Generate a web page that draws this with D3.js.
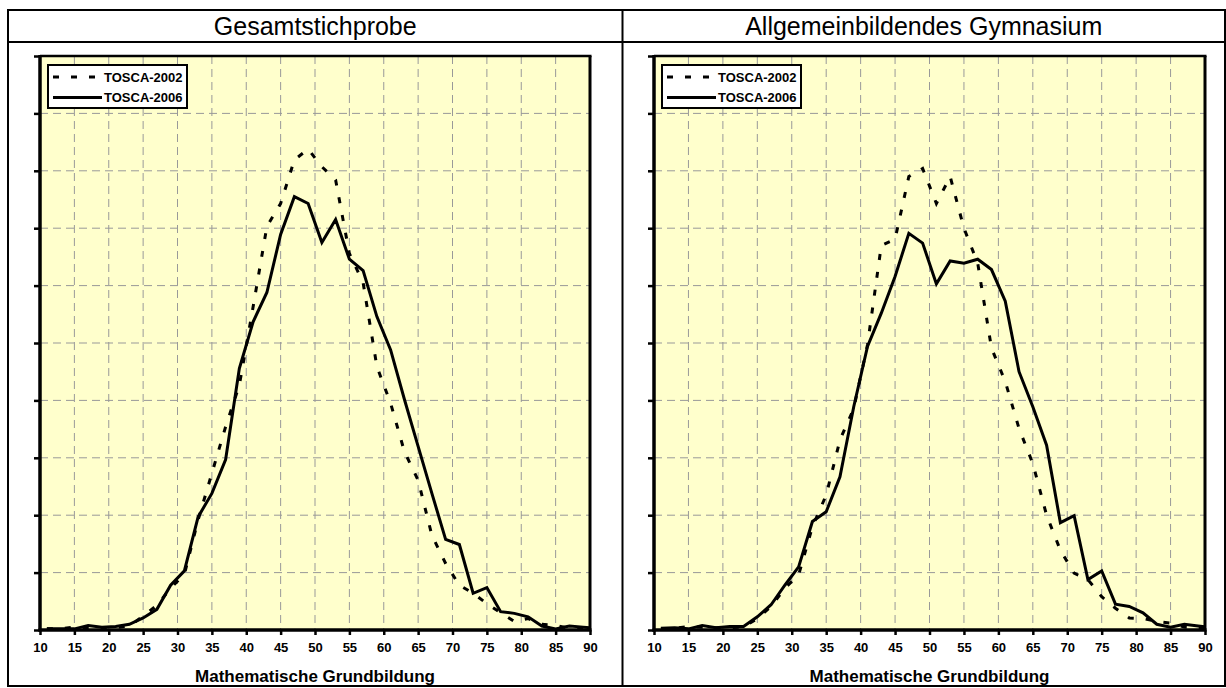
<!DOCTYPE html>
<html><head><meta charset="utf-8">
<script src="https://cdn.jsdelivr.net/npm/d3@7"></script>
<style>
html,body{margin:0;padding:0;background:#fff;}
svg{display:block;}
text{font-family:"Liberation Sans",Arial,Helvetica,sans-serif;}
</style>
</head><body>
<svg id="chart" width="1226" height="688"></svg>
<script>
// ---------- data ----------
const panelTitles = ["Gesamtstichprobe", "Allgemeinbildendes Gymnasium"];
const seriesNames = ["TOSCA-2002", "TOSCA-2006"];
const xAxisTitle = "Mathematische Grundbildung";
const xTickValues = [10, 15, 20, 25, 30, 35, 40, 45, 50, 55, 60, 65, 70, 75, 80, 85, 90];
const yTickValues = [0, 1, 2, 3, 4, 5, 6, 7, 8, 9, 10];

const scores = [11, 13, 15, 17, 19, 21, 23, 25, 27, 29, 31, 33, 35, 37, 39, 41, 43, 45, 47, 49,
                51, 53, 55, 57, 59, 61, 63, 65, 67, 69, 71, 73, 75, 77, 79, 81, 83, 85, 87, 89, 91];

const gesamt2002 = [0.02, 0.02, 0.05, 0.04, 0.03, 0.04, 0.07, 0.24, 0.43, 0.73, 0.97, 1.92, 2.73, 3.54, 4.27, 5.63, 7.03, 7.43, 8.19, 8.38,
                    8.07, 7.84, 6.56, 6.05, 4.59, 3.95, 3.11, 2.61, 1.65, 1.16, 0.78, 0.64, 0.46, 0.30, 0.15, 0.20, 0.10, 0.08, 0.03, 0.02, 0.02];
const gesamt2006 = [0.02, 0.02, 0.02, 0.08, 0.05, 0.06, 0.10, 0.21, 0.36, 0.78, 1.03, 1.97, 2.38, 2.97, 4.56, 5.37, 5.88, 6.89, 7.55, 7.43,
                    6.75, 7.15, 6.46, 6.26, 5.46, 4.88, 4.02, 3.20, 2.38, 1.58, 1.49, 0.64, 0.74, 0.32, 0.29, 0.23, 0.07, 0.02, 0.07, 0.05, 0.03];
const gymnasium2002 = [0.02, 0.03, 0.06, 0.05, 0.04, 0.04, 0.05, 0.20, 0.41, 0.73, 0.96, 1.80, 2.35, 3.31, 3.86, 4.97, 6.70, 6.81, 7.90, 8.04,
                       7.43, 7.90, 7.00, 6.39, 4.91, 4.33, 3.51, 2.90, 2.00, 1.39, 0.99, 0.88, 0.58, 0.38, 0.21, 0.20, 0.15, 0.12, 0.05, 0.03, 0.02];
const gymnasium2006 = [0.03, 0.04, 0.02, 0.08, 0.04, 0.06, 0.06, 0.23, 0.44, 0.78, 1.10, 1.89, 2.06, 2.67, 3.89, 4.94, 5.52, 6.16, 6.91, 6.74,
                       6.03, 6.43, 6.39, 6.46, 6.28, 5.73, 4.50, 3.89, 3.22, 1.87, 1.99, 0.88, 1.03, 0.45, 0.41, 0.30, 0.10, 0.05, 0.10, 0.07, 0.04];

// ---------- layout ----------
const svg = d3.select("#chart");
const table = {left: 8, right: 1225, top: 10, headerBottom: 42, mid: 622.5, bottom: 686};
const plotTop = 56, plotBottom = 630;

const panels = [
  {title: panelTitles[0], s02: gesamt2002, s06: gesamt2006, left: 40, right: 590, cx: (table.left + table.mid) / 2},
  {title: panelTitles[1], s02: gymnasium2002, s06: gymnasium2006, left: 654, right: 1205, cx: (table.mid + table.right) / 2}
];

// table frame
const tg = svg.append("g").attr("stroke", "#000").attr("stroke-width", 2).attr("fill", "none");
tg.append("line").attr("x1", table.left - 1).attr("x2", table.right + 1).attr("y1", table.top).attr("y2", table.top);
tg.append("line").attr("x1", table.left - 1).attr("x2", table.right + 1).attr("y1", table.headerBottom).attr("y2", table.headerBottom);
tg.append("line").attr("x1", table.left - 1).attr("x2", table.right + 1).attr("y1", table.bottom).attr("y2", table.bottom);
tg.append("line").attr("x1", table.left).attr("x2", table.left).attr("y1", table.top).attr("y2", table.bottom);
tg.append("line").attr("x1", table.mid).attr("x2", table.mid).attr("y1", table.top).attr("y2", table.bottom);
tg.append("line").attr("x1", table.right).attr("x2", table.right).attr("y1", table.top).attr("y2", table.bottom);

const lineDash = "6,12";
const gridDash = "8,5";

panels.forEach((p, i) => {
  const g = svg.append("g");
  const x = d3.scaleLinear().domain([10, 90]).range([p.left, p.right]);
  const y = d3.scaleLinear().domain([0, 10]).range([plotBottom, plotTop]);

  // panel title
  g.append("text").attr("x", p.cx).attr("y", 35).attr("text-anchor", "middle")
    .attr("font-size", 25).attr("fill", "#000").text(p.title);

  // plot background
  g.append("rect").attr("x", p.left).attr("y", plotTop)
    .attr("width", p.right - p.left).attr("height", plotBottom - plotTop).attr("fill", "#FFFFCC");

  // grid
  g.append("g").selectAll("line").data(xTickValues.slice(1, -1)).join("line")
    .attr("x1", d => x(d)).attr("x2", d => x(d)).attr("y1", plotTop).attr("y2", plotBottom)
    .attr("stroke", "#999").attr("stroke-width", 1).attr("stroke-dasharray", gridDash);
  g.append("g").selectAll("line").data(yTickValues.slice(1, -1)).join("line")
    .attr("x1", p.left).attr("x2", p.right).attr("y1", d => y(d)).attr("y2", d => y(d))
    .attr("stroke", "#999").attr("stroke-width", 1).attr("stroke-dasharray", gridDash);

  // clip
  const clipId = "clip" + i;
  svg.append("defs").append("clipPath").attr("id", clipId).append("rect")
    .attr("x", p.left).attr("y", plotTop - 4).attr("width", p.right - p.left).attr("height", plotBottom - plotTop + 4);

  const line = d3.line().x((d, k) => x(scores[k])).y(d => y(d));
  const lg = g.append("g").attr("clip-path", `url(#${clipId})`);
  lg.append("path").datum(p.s02).attr("d", line).attr("fill", "none")
    .attr("stroke", "#000").attr("stroke-width", 3).attr("stroke-dasharray", lineDash);
  lg.append("path").datum(p.s06).attr("d", line).attr("fill", "none")
    .attr("stroke", "#000").attr("stroke-width", 3);

  // frame top/right
  g.append("line").attr("x1", p.left).attr("x2", p.right + 1.5).attr("y1", plotTop).attr("y2", plotTop)
    .attr("stroke", "#000").attr("stroke-width", 2.5);
  g.append("line").attr("x1", p.right).attr("x2", p.right).attr("y1", plotTop).attr("y2", plotBottom)
    .attr("stroke", "#000").attr("stroke-width", 3);

  // axes
  const xAxis = g.append("g").attr("transform", `translate(0,${plotBottom})`)
    .call(d3.axisBottom(x).tickValues(xTickValues).tickSize(5).tickPadding(8).tickFormat(d3.format("d")));
  xAxis.select(".domain").attr("stroke", "#000").attr("stroke-width", 3.5).attr("d", `M${p.left - 1.5},0H${p.right + 1.5}`);
  xAxis.selectAll(".tick line").attr("stroke", "#000").attr("stroke-width", 2.5);
  xAxis.selectAll(".tick text").attr("font-size", 13).attr("font-weight", "bold")
    .attr("font-family", "'Liberation Sans', Arial, sans-serif").attr("fill", "#000");

  const yAxis = g.append("g").attr("transform", `translate(${p.left},0)`)
    .call(d3.axisLeft(y).tickValues(yTickValues).tickSize(6).tickFormat(""));
  yAxis.select(".domain").attr("stroke", "#000").attr("stroke-width", 3.5).attr("d", `M0,${plotTop - 1}V${plotBottom + 1.5}`);
  yAxis.selectAll(".tick line").attr("stroke", "#000").attr("stroke-width", 2.5);

  // axis title
  g.append("text").attr("x", (p.left + p.right) / 2).attr("y", 682).attr("text-anchor", "middle")
    .attr("font-size", 17).attr("font-weight", "bold").attr("fill", "#000").text(xAxisTitle);

  // legend
  const bx = p.left + 8, by = plotTop + 9, bw = 139, bh = 43;
  const leg = g.append("g");
  leg.append("rect").attr("x", bx).attr("y", by).attr("width", bw).attr("height", bh)
    .attr("fill", "#fff").attr("stroke", "#000").attr("stroke-width", 2);
  const rows = [{name: seriesNames[0], dash: lineDash}, {name: seriesNames[1], dash: null}];
  rows.forEach((r, k) => {
    const cy = by + 12 + k * 20.5;
    leg.append("line").attr("x1", bx + 5).attr("x2", bx + 54).attr("y1", cy).attr("y2", cy)
      .attr("stroke", "#000").attr("stroke-width", 3).attr("stroke-dasharray", r.dash);
    leg.append("text").attr("x", bx + 56).attr("y", cy + 4.5).attr("font-size", 13)
      .attr("font-weight", "bold").attr("fill", "#000").text(r.name);
  });
});
</script>
</body></html>
